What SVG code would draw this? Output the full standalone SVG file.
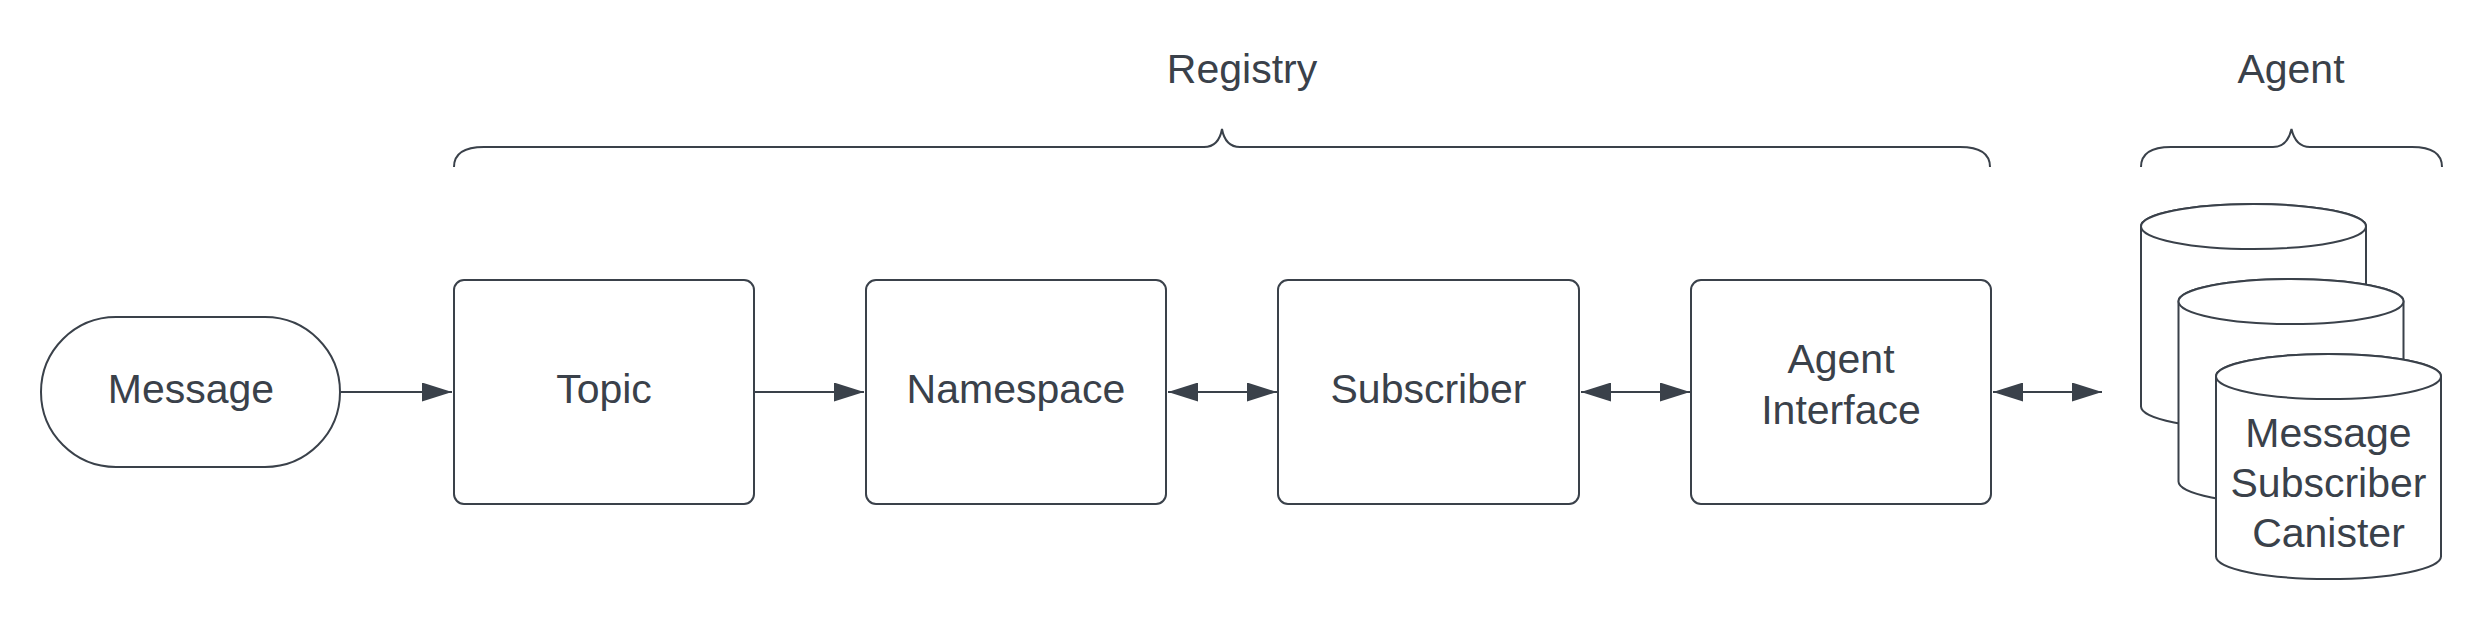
<svg xmlns="http://www.w3.org/2000/svg" width="2483" height="619" viewBox="0 0 2483 619">
<style>
.shape{fill:#ffffff;stroke:#3a414a;stroke-width:2}
.brace{fill:none;stroke:#3a414a;stroke-width:2}
.conn{fill:none;stroke:#3a414a;stroke-width:2}
.lbl{font-family:"Liberation Sans",Arial,sans-serif;font-size:41px;fill:#3a414a;text-anchor:middle}
</style>
<defs>
<marker id="arrow" markerUnits="userSpaceOnUse" viewBox="0 0 30 19" markerWidth="30" markerHeight="19" refX="30" refY="9.5" orient="auto-start-reverse">
<path d="M0,0 L30,9.5 L0,19 Z" fill="#3a414a"/>
</marker>
</defs>
<rect width="2483" height="619" fill="#ffffff"/>

<g id="registry-group">
<path class="brace" d="M454,167 C454,154 464,147 484,147 H1204 C1214,147 1220,140 1222,129 C1224,140 1230,147 1240,147 H1960 C1980,147 1990,154 1990,167"/>
<text class="lbl" x="1242" y="83">Registry</text>
</g>
<g id="agent-group">
<path class="brace" d="M2141,167 C2141,154 2151,147 2171,147 H2273 C2283,147 2289,140 2291.5,129 C2294,140 2300,147 2310,147 H2412 C2432,147 2442,154 2442,167"/>
<text class="lbl" x="2291" y="83">Agent</text>
</g>

<g id="message">
<rect class="shape" x="41" y="317" width="299" height="150" rx="75" ry="75"/>
<text class="lbl" x="191" y="403">Message</text>
</g>
<g id="topic">
<rect class="shape" x="454" y="280" width="300" height="224" rx="10" ry="10"/>
<text class="lbl" x="604" y="403">Topic</text>
</g>
<g id="namespace">
<rect class="shape" x="866" y="280" width="300" height="224" rx="10" ry="10"/>
<text class="lbl" x="1016" y="403">Namespace</text>
</g>
<g id="subscriber">
<rect class="shape" x="1278" y="280" width="301" height="224" rx="10" ry="10"/>
<text class="lbl" x="1428.5" y="403">Subscriber</text>
</g>
<g id="agent-interface">
<rect class="shape" x="1691" y="280" width="300" height="224" rx="10" ry="10"/>
<text class="lbl" x="1841" y="373">Agent</text>
<text class="lbl" x="1841" y="424">Interface</text>
</g>

<g id="canister-stack">
<g id="canister-back">
<path class="shape" d="M2141,226.5 V406.5 A112.5,22.5 0 0 0 2366,406.5 V226.5 A112.5,22.5 0 0 0 2141,226.5 Z"/>
<ellipse class="shape" cx="2253.5" cy="226.5" rx="112.5" ry="22.5"/>
</g>
<g id="canister-middle">
<path class="shape" d="M2178.5,301.5 V481.5 A112.5,22.5 0 0 0 2403.5,481.5 V301.5 A112.5,22.5 0 0 0 2178.5,301.5 Z"/>
<ellipse class="shape" cx="2291" cy="301.5" rx="112.5" ry="22.5"/>
</g>
<g id="canister-front">
<path class="shape" d="M2216,376.5 V556.5 A112.5,22.5 0 0 0 2441,556.5 V376.5 A112.5,22.5 0 0 0 2216,376.5 Z"/>
<ellipse class="shape" cx="2328.5" cy="376.5" rx="112.5" ry="22.5"/>
<text class="lbl" x="2328.5" y="447">Message</text>
<text class="lbl" x="2328.5" y="497">Subscriber</text>
<text class="lbl" x="2328.5" y="547">Canister</text>
</g>
</g>

<g id="connectors">
<line class="conn" x1="341" y1="392" x2="452" y2="392" marker-end="url(#arrow)"/>
<line class="conn" x1="755" y1="392" x2="864" y2="392" marker-end="url(#arrow)"/>
<line class="conn" x1="1168" y1="392" x2="1277" y2="392" marker-start="url(#arrow)" marker-end="url(#arrow)"/>
<line class="conn" x1="1581" y1="392" x2="1690" y2="392" marker-start="url(#arrow)" marker-end="url(#arrow)"/>
<line class="conn" x1="1993" y1="392" x2="2102" y2="392" marker-start="url(#arrow)" marker-end="url(#arrow)"/>
</g>
</svg>
